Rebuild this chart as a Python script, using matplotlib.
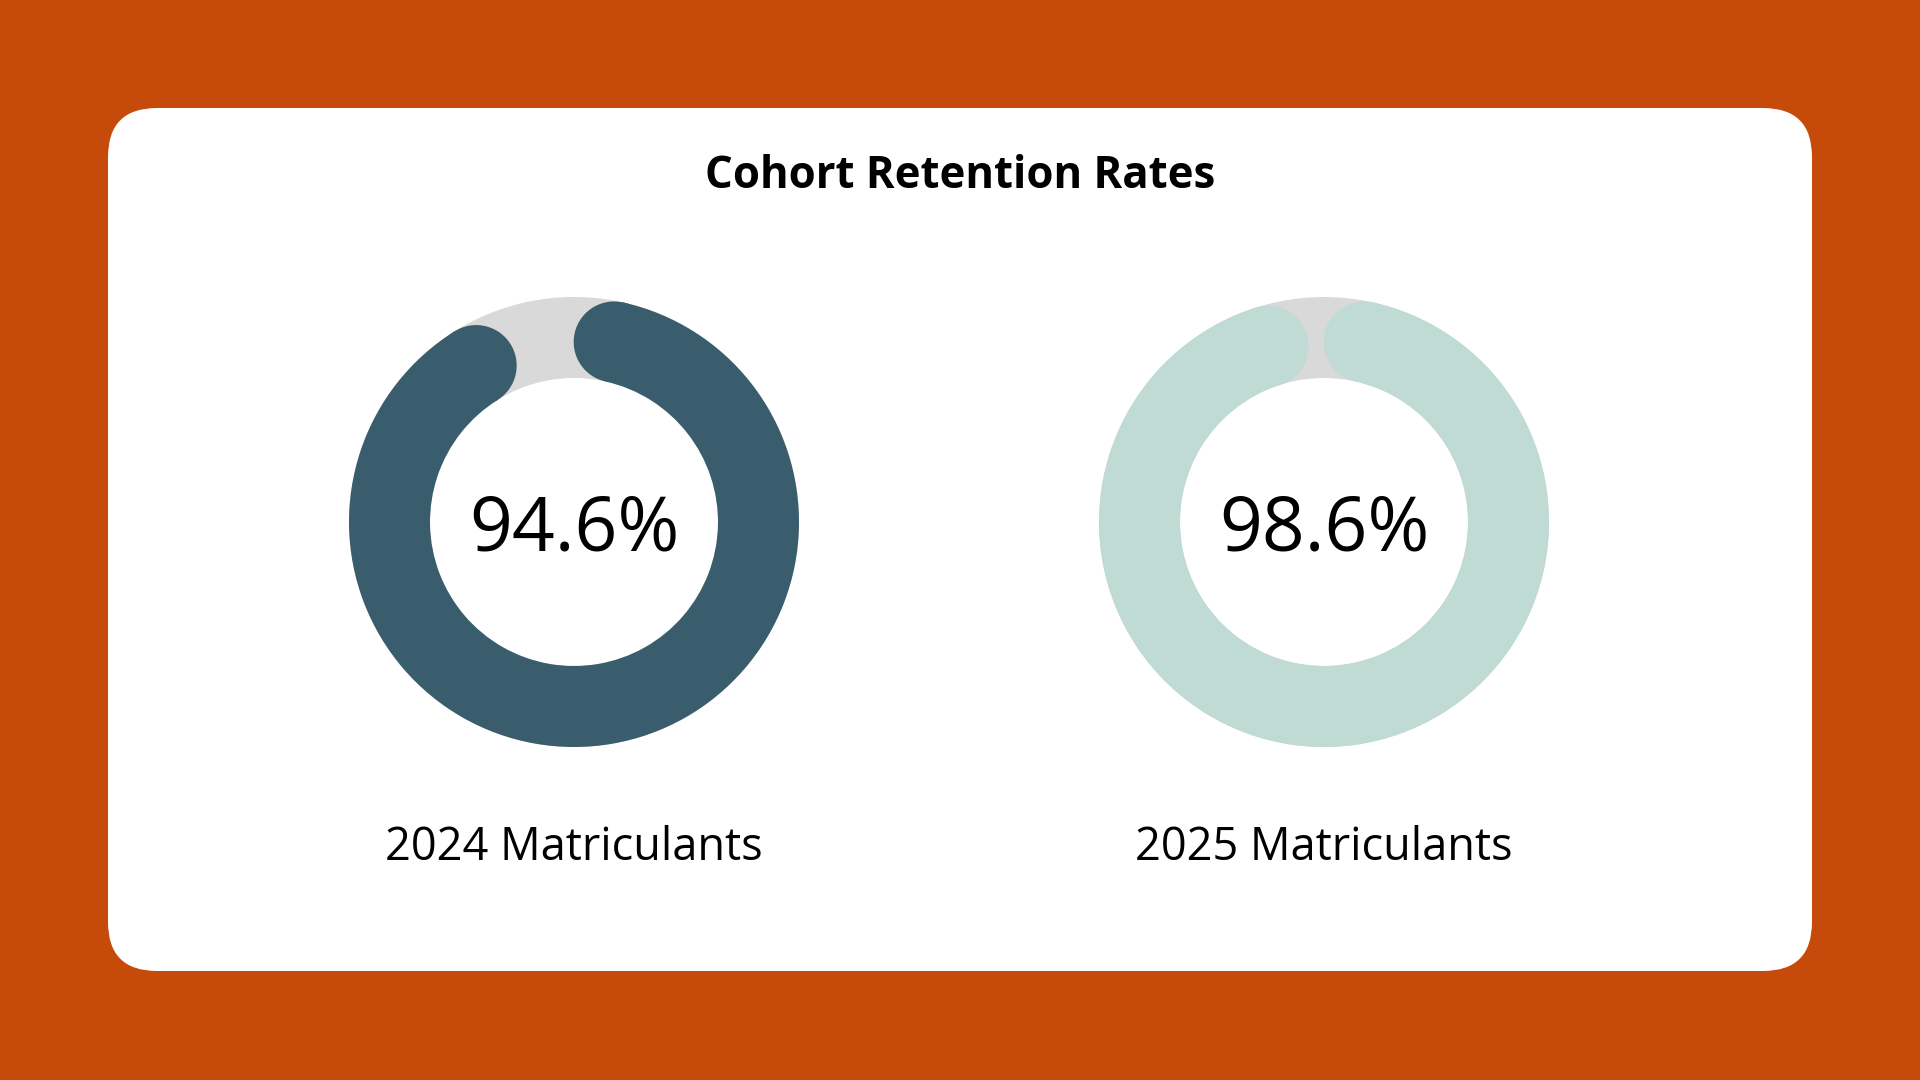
import math as m
import matplotlib
matplotlib.use('Agg')
import matplotlib.pyplot as plt
from matplotlib.patches import Wedge, Circle, FancyBboxPatch


title = 'Cohort Retention Rates'
cohorts = ['2024 Matriculants', '2025 Matriculants']
rates = [94.6, 98.6]
colors = ['#3A5D6E', '#BFDBD4']

bg = '#C64A09'
track = '#D9D9D9'

W, H = 1920, 1080
r_out = 225
ring = 81
r_mid = r_out - ring / 2
cy = 558
cxs = [574, 1324]


def donut(ax, cx, pct, col):
    # gray track
    ax.add_patch(Wedge((cx, cy), r_out, 0, 360, width=ring, color=track, lw=0))
    # arc with round caps, visual extent = pct of the circle from 12 o'clock clockwise
    cap = m.degrees(ring / 2 / r_mid)
    t2 = 90 - cap
    t1 = 90 - pct / 100 * 360 + cap
    ax.add_patch(Wedge((cx, cy), r_out, t1, t2, width=ring, color=col, lw=0))
    for t in (t1, t2):
        x = cx + r_mid * m.cos(m.radians(t))
        y = cy + r_mid * m.sin(m.radians(t))
        ax.add_patch(Circle((x, y), ring / 2, color=col, lw=0))


fig = plt.figure(figsize=(W / 100, H / 100), dpi=100)
fig.patch.set_facecolor(bg)
ax = fig.add_axes([0, 0, 1, 1])
ax.set_xlim(0, W)
ax.set_ylim(0, H)
ax.set_aspect('equal')
ax.axis('off')

card = FancyBboxPatch((108, 109), 1704, 863,
                      boxstyle='round,pad=0,rounding_size=49',
                      fc='white', ec='none')
ax.add_patch(card)

ax.text(W / 2, 903, title, ha='center', va='center', fontsize=31.5,
        fontweight='bold', family=['Open Sans', 'DejaVu Sans'], color='black')

for cx, lab, r, c in zip(cxs, cohorts, rates, colors):
    donut(ax, cx, r, c)
    ax.text(cx, cy - 9, f'{r}%', ha='center', va='center', fontsize=54,
            family=['Open Sans', 'DejaVu Sans'], color='black')
    ax.text(cx, 232, lab, ha='center', va='center', fontsize=32.5,
            family=['Open Sans', 'DejaVu Sans'], color='black')

fig.savefig('out.png', dpi=100, facecolor=bg)
